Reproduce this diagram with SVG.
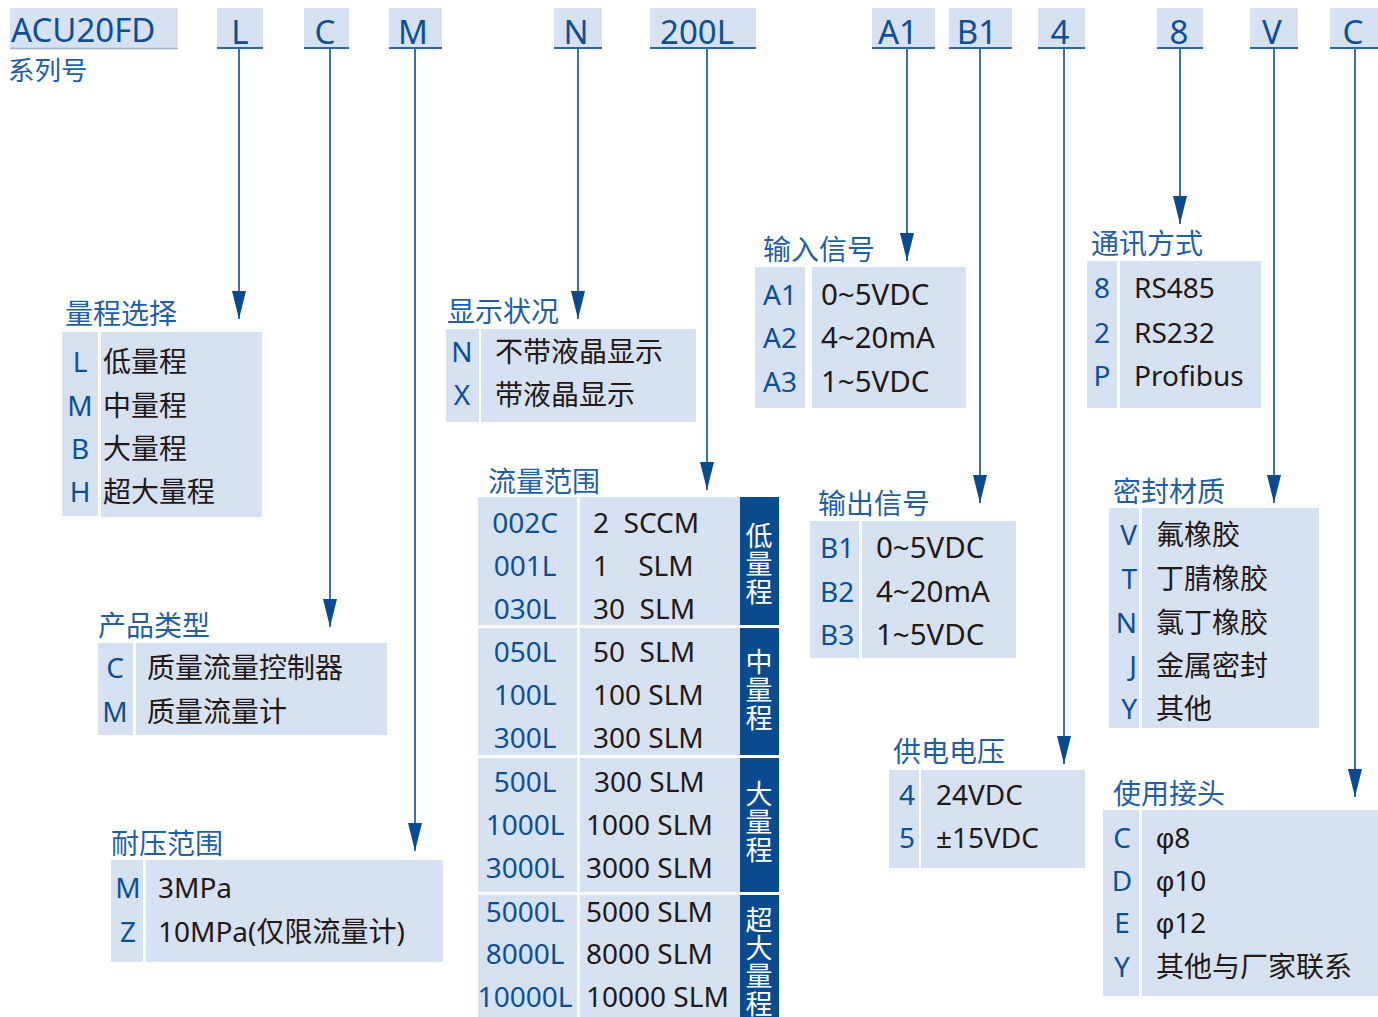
<svg xmlns="http://www.w3.org/2000/svg" width="1378" height="1017" viewBox="0 0 1378 1017">
<defs>
<style>
text{font-family:"Noto Sans","Noto Sans CJK SC",sans-serif;}
.hb{fill:#d6e2f2;}
.ul{stroke:#2c65a8;stroke-width:2;}
.ht{font-size:33px;fill:#0e4f94;text-anchor:middle;}
.tt{font-size:28px;fill:#1f5fa8;}
.f{fill:#d6e2f2;}
.c{font-size:28px;fill:#0e4f94;}
.cm{font-size:28px;fill:#0e4f94;text-anchor:middle;}
.ce{font-size:28px;fill:#0e4f94;text-anchor:end;}
.v{font-size:28px;fill:#231815;white-space:pre;}
.sv{font-size:29.5px;}
.phi{font-family:"Liberation Sans","Noto Sans",sans-serif;}
.band{fill:#0a4a8e;}
.bt{font-family:"Noto Sans CJK SC",sans-serif;font-size:27px;fill:#ffffff;writing-mode:vertical-rl;letter-spacing:1px;}
.ln{stroke:#3b72b0;stroke-width:2;fill:none;marker-end:url(#ah);}
</style>
<marker id="ah" viewBox="0 -7 28 14" refX="28" refY="0" markerWidth="28" markerHeight="14" markerUnits="userSpaceOnUse" orient="auto">
<path d="M0,-7 L28,0 L0,7 z" fill="#0a4a8e"/>
</marker>
</defs>
<rect width="1378" height="1017" fill="#ffffff"/>

<g id="headers">
<g id="h-series">
<rect class="hb" x="10" y="8" width="168" height="41"/>
<line x1="10" y1="48.5" x2="178" y2="48.5" stroke="#9bb3d3" stroke-width="1.5"/>
<text x="11" y="42" style="font-size:33px;fill:#0e4f94;">ACU20FD</text>
<text class="tt" x="8" y="80" style="font-size:26.5px;">系列号</text>
</g>
<g id="h-L"><rect class="hb" x="217" y="8" width="46" height="41"/><line class="ul" x1="217" y1="48" x2="263" y2="48"/><text class="ht" x="240" y="44">L</text></g>
<g id="h-C"><rect class="hb" x="304" y="8" width="45" height="41"/><line class="ul" x1="304" y1="48" x2="349" y2="48"/><text class="ht" x="325" y="44">C</text></g>
<g id="h-M"><rect class="hb" x="389" y="8" width="53" height="41"/><line class="ul" x1="389" y1="48" x2="442" y2="48"/><text class="ht" x="413" y="44">M</text></g>
<g id="h-N"><rect class="hb" x="554" y="8" width="48" height="41"/><line class="ul" x1="554" y1="48" x2="602" y2="48"/><text class="ht" x="576" y="44">N</text></g>
<g id="h-200L"><rect class="hb" x="650" y="8" width="106" height="41"/><line class="ul" x1="650" y1="48" x2="756" y2="48"/><text class="ht" x="697" y="44">200L</text></g>
<g id="h-A1"><rect class="hb" x="872" y="8" width="63" height="41"/><line class="ul" x1="872" y1="48" x2="935" y2="48"/><text class="ht" x="898" y="44">A1</text></g>
<g id="h-B1"><rect class="hb" x="949" y="8" width="63" height="41"/><line class="ul" x1="949" y1="48" x2="1012" y2="48"/><text class="ht" x="977" y="44">B1</text></g>
<g id="h-4"><rect class="hb" x="1038" y="8" width="47" height="41"/><line class="ul" x1="1038" y1="48" x2="1085" y2="48"/><text class="ht" x="1060" y="44">4</text></g>
<g id="h-8"><rect class="hb" x="1157" y="8" width="46" height="41"/><line class="ul" x1="1157" y1="48" x2="1203" y2="48"/><text class="ht" x="1179" y="44">8</text></g>
<g id="h-V"><rect class="hb" x="1250" y="8" width="48" height="41"/><line class="ul" x1="1250" y1="48" x2="1298" y2="48"/><text class="ht" x="1272" y="44">V</text></g>
<g id="h-C2"><rect class="hb" x="1330" y="8" width="48" height="41"/><line class="ul" x1="1330" y1="48" x2="1378" y2="48"/><text class="ht" x="1353" y="44">C</text></g>
</g>

<g id="connectors">
<line class="ln" x1="239" y1="49" x2="239" y2="319"/>
<line class="ln" x1="330" y1="49" x2="330" y2="627"/>
<line class="ln" x1="415" y1="49" x2="415" y2="851"/>
<line class="ln" x1="578" y1="49" x2="578" y2="319"/>
<line class="ln" x1="707" y1="49" x2="707" y2="490"/>
<line class="ln" x1="907" y1="49" x2="907" y2="261"/>
<line class="ln" x1="980" y1="49" x2="980" y2="503"/>
<line class="ln" x1="1064" y1="49" x2="1064" y2="764"/>
<line class="ln" x1="1180" y1="49" x2="1180" y2="224"/>
<line class="ln" x1="1274" y1="49" x2="1274" y2="503"/>
<line class="ln" x1="1355" y1="49" x2="1355" y2="797"/>
</g>

<g id="range-select">
<text class="tt" x="65" y="324">量程选择</text>
<rect class="f" x="62" y="332" width="36" height="184"/>
<rect class="f" x="101" y="332" width="161" height="185"/>
<text class="cm" x="80" y="372">L</text><text class="v" x="103" y="372">低量程</text>
<text class="cm" x="80" y="416">M</text><text class="v" x="103" y="416">中量程</text>
<text class="cm" x="80" y="459">B</text><text class="v" x="103" y="459">大量程</text>
<text class="cm" x="80" y="502">H</text><text class="v" x="103" y="502">超大量程</text>
</g>

<g id="display">
<text class="tt" x="447" y="322">显示状况</text>
<rect class="f" x="446" y="329" width="33" height="93"/>
<rect class="f" x="481" y="329" width="215" height="93"/>
<text class="cm" x="462" y="362">N</text><text class="v" x="495" y="362">不带液晶显示</text>
<text class="cm" x="462" y="405">X</text><text class="v" x="495" y="405">带液晶显示</text>
</g>

<g id="product-type">
<text class="tt" x="98" y="636">产品类型</text>
<rect class="f" x="98" y="643" width="35" height="92"/>
<rect class="f" x="136" y="643" width="251" height="92"/>
<text class="cm" x="115" y="678">C</text><text class="v" x="147" y="678">质量流量控制器</text>
<text class="cm" x="115" y="722">M</text><text class="v" x="147" y="722">质量流量计</text>
</g>

<g id="pressure">
<text class="tt" x="111" y="854">耐压范围</text>
<rect class="f" x="111" y="860" width="32" height="102"/>
<rect class="f" x="146" y="860" width="297" height="102"/>
<text class="cm" x="128" y="898">M</text><text class="v" x="158" y="898">3MPa</text>
<text class="cm" x="128" y="942">Z</text><text class="v" x="158" y="942">10MPa(仅限流量计)</text>
</g>

<g id="flow-range">
<text class="tt" x="488" y="492">流量范围</text>
<rect class="f" x="478" y="497" width="99" height="128"/>
<rect class="f" x="580" y="497" width="160" height="128"/>
<rect class="band" x="740" y="497" width="39" height="128"/>
<rect class="f" x="478" y="628" width="99" height="127"/>
<rect class="f" x="580" y="628" width="160" height="127"/>
<rect class="band" x="740" y="628" width="39" height="127"/>
<rect class="f" x="478" y="758" width="99" height="134"/>
<rect class="f" x="580" y="758" width="160" height="134"/>
<rect class="band" x="740" y="758" width="39" height="134"/>
<rect class="f" x="478" y="895" width="99" height="122"/>
<rect class="f" x="580" y="895" width="160" height="122"/>
<rect class="band" x="740" y="895" width="39" height="122"/>
<text class="cm" x="525" y="533">002C</text><text class="v" x="593" y="533" xml:space="preserve">2  SCCM</text>
<text class="cm" x="525" y="576">001L</text><text class="v" x="593" y="576" xml:space="preserve">1    SLM</text>
<text class="cm" x="525" y="619">030L</text><text class="v" x="593" y="619" xml:space="preserve">30  SLM</text>
<text class="cm" x="525" y="662">050L</text><text class="v" x="593" y="662" xml:space="preserve">50  SLM</text>
<text class="cm" x="525" y="705">100L</text><text class="v" x="593" y="705">100 SLM</text>
<text class="cm" x="525" y="748">300L</text><text class="v" x="593" y="748">300 SLM</text>
<text class="cm" x="525" y="792">500L</text><text class="v" x="594" y="792">300 SLM</text>
<text class="cm" x="525" y="835">1000L</text><text class="v" x="586" y="835">1000 SLM</text>
<text class="cm" x="525" y="878">3000L</text><text class="v" x="586" y="878">3000 SLM</text>
<text class="cm" x="525" y="922">5000L</text><text class="v" x="586" y="922">5000 SLM</text>
<text class="cm" x="525" y="964">8000L</text><text class="v" x="586" y="964">8000 SLM</text>
<text class="cm" x="525" y="1007">10000L</text><text class="v" x="586" y="1007">10000 SLM</text>
<text class="bt" x="759" y="522">低量程</text>
<text class="bt" x="759" y="648">中量程</text>
<text class="bt" x="759" y="780">大量程</text>
<text class="bt" x="759" y="906">超大量程</text>
</g>

<g id="input-signal">
<text class="tt" x="763" y="260">输入信号</text>
<rect class="f" x="755" y="267" width="50" height="141"/>
<rect class="f" x="812" y="267" width="154" height="141"/>
<text class="c" x="763" y="305">A1</text><text class="v sv" x="821" y="305">0~5VDC</text>
<text class="c" x="763" y="348">A2</text><text class="v sv" x="821" y="348">4~20mA</text>
<text class="c" x="763" y="392">A3</text><text class="v sv" x="821" y="392">1~5VDC</text>
</g>

<g id="output-signal">
<text class="tt" x="818" y="514">输出信号</text>
<rect class="f" x="810" y="521" width="49" height="137"/>
<rect class="f" x="862" y="521" width="154" height="137"/>
<text class="c" x="820" y="558">B1</text><text class="v sv" x="876" y="558">0~5VDC</text>
<text class="c" x="820" y="602">B2</text><text class="v sv" x="876" y="602">4~20mA</text>
<text class="c" x="820" y="645">B3</text><text class="v sv" x="876" y="645">1~5VDC</text>
</g>

<g id="comm">
<text class="tt" x="1091" y="254">通讯方式</text>
<rect class="f" x="1087" y="261" width="30" height="147"/>
<rect class="f" x="1120" y="261" width="141" height="147"/>
<text class="cm" x="1102" y="298">8</text><text class="v" x="1134" y="298">RS485</text>
<text class="cm" x="1102" y="343">2</text><text class="v" x="1134" y="343">RS232</text>
<text class="cm" x="1102" y="386">P</text><text class="v" x="1134" y="386">Profibus</text>
</g>

<g id="seal">
<text class="tt" x="1113" y="502">密封材质</text>
<rect class="f" x="1109" y="508" width="30" height="220"/>
<rect class="f" x="1142" y="508" width="177" height="220"/>
<text class="ce" x="1137" y="545">V</text><text class="v" x="1156" y="545">氟橡胶</text>
<text class="ce" x="1137" y="589">T</text><text class="v" x="1156" y="589">丁腈橡胶</text>
<text class="ce" x="1137" y="633">N</text><text class="v" x="1156" y="633">氯丁橡胶</text>
<text class="ce" x="1137" y="676">J</text><text class="v" x="1156" y="676">金属密封</text>
<text class="ce" x="1137" y="719">Y</text><text class="v" x="1156" y="719">其他</text>
</g>

<g id="power">
<text class="tt" x="893" y="762">供电电压</text>
<rect class="f" x="889" y="770" width="30" height="98"/>
<rect class="f" x="921" y="770" width="164" height="98"/>
<text class="cm" x="907" y="805">4</text><text class="v" x="936" y="805">24VDC</text>
<text class="cm" x="907" y="848">5</text><text class="v" x="936" y="848">±15VDC</text>
</g>

<g id="fitting">
<text class="tt" x="1113" y="804">使用接头</text>
<rect class="f" x="1103" y="810" width="36" height="186"/>
<rect class="f" x="1142" y="810" width="236" height="186"/>
<text class="cm" x="1122" y="848">C</text><text class="v" x="1156" y="848"><tspan class="phi">φ</tspan>8</text>
<text class="cm" x="1122" y="891">D</text><text class="v" x="1156" y="891"><tspan class="phi">φ</tspan>10</text>
<text class="cm" x="1122" y="933">E</text><text class="v" x="1156" y="933"><tspan class="phi">φ</tspan>12</text>
<text class="cm" x="1122" y="977">Y</text><text class="v" x="1156" y="977">其他与厂家联系</text>
</g>
</svg>
